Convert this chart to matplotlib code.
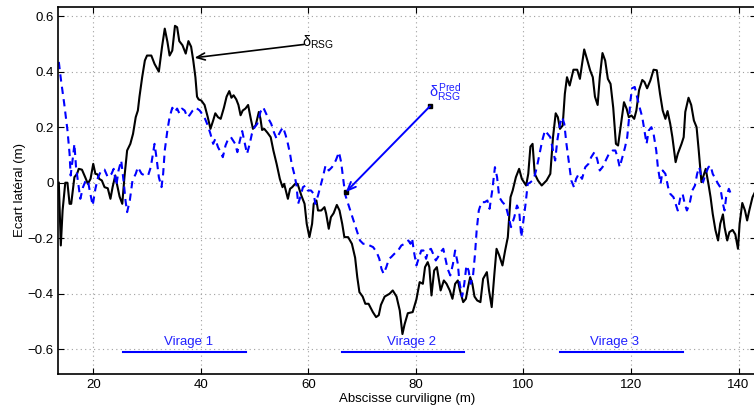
import matplotlib
matplotlib.use("Agg")
import matplotlib.pyplot as plt

plt.rcParams['font.family'] = ['Liberation Sans', 'DejaVu Sans']
plt.rcParams['mathtext.fontset'] = 'custom'
plt.rcParams['mathtext.rm'] = 'Liberation Sans'
plt.rcParams['mathtext.it'] = 'Liberation Sans'
plt.rcParams['mathtext.bf'] = 'Liberation Sans:bold'

# measured lateral deviation (black, solid)
rsg_x = [13.6, 13.97, 14.3, 14.8, 15.2, 15.6, 15.9, 16.5, 17.0, 17.3, 17.9, 18.5, 19.0, 19.5,
         20.0, 20.4, 20.8, 21.1, 21.6, 22.1, 22.7, 23.2, 23.6, 24.1, 24.4, 24.9, 25.4, 25.8,
         26.3, 26.9, 27.4, 27.9, 28.3, 28.6, 29.1, 29.6, 30.0, 30.8, 31.4, 32.2, 32.8, 33.3,
         33.8, 34.2, 34.7, 35.2, 35.6, 36.0, 36.6, 37.2, 37.7, 38.2, 38.6, 39.0, 39.3, 39.6,
         40.1, 40.7, 41.3, 41.8, 42.3, 42.7, 43.2, 43.7, 44.3, 44.8, 45.3, 45.7, 46.1, 46.6,
         47.0, 47.4, 47.8, 48.3, 48.8, 49.3, 49.7, 50.2, 50.8, 51.1, 51.4, 51.8, 52.4, 53.0,
         53.5, 54.1, 54.7, 55.2, 55.5, 56.2, 56.6, 57.0, 57.5, 58.0, 58.7, 59.3, 59.7, 60.2,
         60.7, 61.0, 61.5, 61.8, 62.4, 63.0, 63.3, 63.8, 64.2, 64.7, 65.3, 65.8, 66.3, 66.7,
         67.4, 68.1, 68.7, 69.1, 69.5, 70.1, 70.6, 71.2, 72.0, 72.6, 73.1, 73.5, 74.2, 75.1,
         75.7, 76.4, 77.0, 77.5, 77.9, 78.5, 79.4, 80.1, 80.7, 81.3, 81.7, 82.2, 82.5, 82.9,
         83.4, 83.9, 84.2, 84.6, 85.2, 85.7, 86.3, 86.8, 87.3, 87.8, 88.2, 88.8, 89.3, 89.7,
         90.1, 90.5, 90.9, 91.4, 92.0, 92.5, 93.2, 93.6, 94.1, 94.6, 95.0, 95.5, 96.1, 96.6,
         97.1, 97.6, 98.0, 98.6, 99.2, 99.7, 100.5, 100.9, 101.3, 101.7, 102.1, 102.7, 103.4,
         104.3, 105.0, 105.5, 106.0, 106.4, 106.8, 107.3, 107.7, 108.1, 108.6, 109.3, 110.0,
         110.5, 111.0, 111.3, 111.9, 112.4, 112.9, 113.3, 113.8, 114.2, 114.7, 115.2, 115.7,
         116.2, 116.7, 117.2, 117.6, 118.1, 118.7, 119.2, 119.6, 120.1, 120.6, 121.0, 121.5,
         122.1, 122.5, 123.0, 123.6, 124.2, 124.8, 125.4, 125.9, 126.4, 126.8, 127.3, 127.7,
         128.3, 128.7, 129.4, 129.8, 130.1, 130.7, 131.2, 131.7, 132.2, 132.6, 133.1, 133.4,
         133.9, 134.4, 134.8, 135.2, 135.7, 136.2, 136.6, 137.1, 137.4, 137.9, 138.3, 138.9,
         139.4, 139.9, 140.2, 140.7, 141.2, 141.6, 142.0, 142.6, 143.2]
rsg_y = [0.0, -0.226, -0.10, 0.0, 0.0, -0.076, -0.076, 0.02, 0.032, 0.05, 0.047, 0.02, -0.004, 0.014,
         0.068, 0.032, 0.03, 0.014, 0.008, -0.016, -0.02, -0.058, -0.016, 0.026, -0.004, -0.05, -0.076, 0.02,
         0.116, 0.14, 0.176, 0.236, 0.26, 0.31, 0.38, 0.44, 0.458, 0.458, 0.428, 0.40, 0.49, 0.555,
         0.507, 0.458, 0.476, 0.565, 0.56, 0.51, 0.495, 0.465, 0.51, 0.49, 0.44, 0.38, 0.31, 0.30,
         0.296, 0.28, 0.236, 0.194, 0.224, 0.25, 0.236, 0.23, 0.27, 0.31, 0.33, 0.306, 0.315, 0.30,
         0.28, 0.243, 0.26, 0.267, 0.28, 0.23, 0.194, 0.206, 0.255, 0.23, 0.19, 0.194, 0.18, 0.164,
         0.116, 0.068, 0.014, -0.016, -0.004, -0.058, -0.022, -0.016, -0.005, -0.004, -0.046, -0.076, -0.148, -0.196,
         -0.148, -0.076, -0.064, -0.10, -0.10, -0.088, -0.11, -0.166, -0.124, -0.11, -0.08, -0.10, -0.148, -0.196,
         -0.196, -0.22, -0.27, -0.34, -0.394, -0.41, -0.436, -0.436, -0.466, -0.484, -0.477, -0.44, -0.41, -0.40,
         -0.388, -0.41, -0.46, -0.545, -0.51, -0.47, -0.466, -0.42, -0.358, -0.364, -0.304, -0.286, -0.304, -0.406,
         -0.316, -0.304, -0.34, -0.388, -0.352, -0.364, -0.388, -0.418, -0.364, -0.352, -0.388, -0.43, -0.418, -0.376,
         -0.34, -0.364, -0.41, -0.424, -0.43, -0.346, -0.322, -0.388, -0.448, -0.328, -0.238, -0.262, -0.298, -0.244,
         -0.196, -0.052, -0.028, 0.02, 0.05, 0.014, -0.01, 0.032, 0.13, 0.14, 0.032, 0.008, -0.01,
         0.008, 0.032, 0.164, 0.25, 0.236, 0.194, 0.206, 0.32, 0.38, 0.35, 0.407, 0.407,
         0.374, 0.44, 0.48, 0.44, 0.405, 0.38, 0.31, 0.28, 0.38, 0.467, 0.44, 0.374,
         0.356, 0.27, 0.14, 0.134, 0.206, 0.29, 0.266, 0.236, 0.242, 0.23, 0.26, 0.333,
         0.37, 0.363, 0.34, 0.368, 0.407, 0.405, 0.32, 0.26, 0.23, 0.258, 0.212, 0.164,
         0.074, 0.104, 0.14, 0.164, 0.255, 0.306, 0.28, 0.224, 0.2, 0.116, 0.002, 0.02,
         0.05, -0.004, -0.052, -0.112, -0.17, -0.208, -0.148, -0.114, -0.16, -0.208, -0.178, -0.17,
         -0.186, -0.238, -0.148, -0.073, -0.10, -0.136, -0.10, -0.052, -0.028]

# predicted lateral deviation (blue, dashed)
pred_x = [13.6, 14.0, 14.6, 15.2, 15.6, 15.8, 16.3, 16.5, 16.8, 17.3, 17.6, 18.1, 18.6, 19.0,
          19.4, 19.9, 20.4, 20.9, 21.5, 22.1, 22.7, 23.4, 23.8, 24.3, 24.7, 25.2, 25.7, 26.0,
          26.3, 26.8, 27.3, 27.9, 28.3, 29.0, 29.6, 30.2, 30.7, 31.1, 31.4, 31.75, 32.2, 32.7,
          33.0, 33.3, 33.8, 34.2, 34.7, 35.2, 35.6, 36.0, 36.5, 37.0, 37.5, 37.9, 38.5, 39.1,
          39.8, 40.4, 40.8, 41.3, 41.8, 42.3, 42.7, 43.2, 43.7, 44.1, 44.6, 45.1, 45.6, 46.0,
          46.4, 46.8, 47.2, 47.7, 48.2, 48.6, 49.1, 49.5, 50.0, 50.5, 51.1, 51.6, 52.0, 52.6,
          53.1, 53.6, 54.1, 54.4, 54.9, 55.3, 55.8, 56.2, 56.6, 56.9, 57.4, 57.8, 58.1, 58.5,
          59.0, 59.5, 59.9, 60.5, 61.0, 61.3, 61.8, 62.2, 62.7, 63.2, 63.8, 64.4, 65.1, 65.7,
          66.1, 66.6, 66.9, 67.6, 68.2, 68.6, 69.1, 69.6, 70.2, 70.8, 71.4, 72.05, 72.7, 73.2,
          73.6, 74.0, 74.5, 75.0, 75.4, 76.0, 76.7, 77.3, 77.9, 78.6, 79.0, 79.3, 79.6, 80.1,
          80.5, 81.0, 81.4, 81.9, 82.3, 82.8, 83.2, 83.7, 84.1, 84.6, 85.1, 85.5, 85.9, 86.4,
          86.9, 87.3, 87.8, 88.1, 88.6, 89.0, 89.4, 89.8, 90.2, 90.6, 91.0, 91.3, 91.7, 92.2,
          92.8, 93.3, 93.7, 94.2, 94.7, 95.1, 95.5, 96.1, 96.7, 97.1, 97.7, 98.3, 98.8, 99.2,
          99.6, 100.0, 100.4, 100.8, 101.2, 101.7, 102.1, 102.5, 103.0, 103.5, 104.0, 104.5, 105.0,
          105.5, 105.9, 106.3, 106.8, 107.2, 107.6, 108.0, 108.4, 108.9, 109.4, 109.8, 110.3,
          110.9, 111.5, 112.1, 112.6, 113.2, 113.7, 114.2, 114.7, 115.3, 115.9, 116.6, 117.1,
          117.5, 117.9, 118.4, 118.9, 119.3, 119.6, 119.9, 120.2, 120.7, 121.2, 121.6, 122.1,
          122.6, 122.9, 123.3, 123.8, 124.2, 124.7, 125.0, 125.5, 125.9, 126.4, 126.9, 127.3,
          127.9, 128.3, 128.7, 129.2, 129.6, 130.0, 130.4, 130.9, 131.4, 131.9, 132.3, 132.7,
          133.1, 133.4, 133.9, 134.4, 134.8, 135.2, 135.7, 136.2, 136.6, 137.1, 137.4, 137.7,
          138.2, 138.7]
pred_y = [0.435, 0.37, 0.285, 0.19, 0.104, 0.026, 0.104, 0.14, 0.056, -0.016, -0.058, -0.016, 0.008, 0.008,
          -0.034, -0.082, -0.022, 0.02, 0.044, 0.047, 0.02, 0.032, 0.05, -0.01, 0.044, 0.08, -0.004, -0.064,
          -0.106, -0.064, 0.008, 0.032, 0.056, 0.032, 0.026, 0.026, 0.056, 0.104, 0.14, 0.092, 0.02, -0.016,
          0.032, 0.116, 0.19, 0.236, 0.27, 0.255, 0.267, 0.25, 0.267, 0.26, 0.236, 0.243, 0.26, 0.27,
          0.26, 0.243, 0.23, 0.206, 0.176, 0.14, 0.158, 0.128, 0.11, 0.092, 0.134, 0.158, 0.164, 0.152,
          0.14, 0.11, 0.146, 0.186, 0.14, 0.104, 0.14, 0.176, 0.2, 0.212, 0.255, 0.272, 0.255, 0.23,
          0.212, 0.182, 0.158, 0.17, 0.188, 0.2, 0.17, 0.14, 0.104, 0.068, 0.03, -0.01, -0.076, -0.052,
          -0.016, -0.01, -0.028, -0.028, -0.04, -0.076, -0.046, -0.016, 0.02, 0.062, 0.044, 0.056, 0.08, 0.11,
          0.074, -0.004, -0.046, -0.088, -0.124, -0.148, -0.178, -0.208, -0.22, -0.22, -0.226, -0.232, -0.25, -0.274,
          -0.31, -0.328, -0.304, -0.274, -0.268, -0.256, -0.244, -0.226, -0.22, -0.208, -0.22, -0.2, -0.244, -0.298,
          -0.274, -0.244, -0.244, -0.274, -0.244, -0.238, -0.256, -0.28, -0.268, -0.25, -0.238, -0.274, -0.31, -0.334,
          -0.292, -0.244, -0.292, -0.358, -0.41, -0.364, -0.298, -0.316, -0.364, -0.34, -0.256, -0.172, -0.1, -0.07,
          -0.07, -0.064, -0.094, -0.028, 0.056, 0.02, -0.052, -0.07, -0.082, -0.112, -0.16, -0.124, -0.082, -0.1,
          -0.196, -0.136, -0.076, -0.004, 0.0, 0.008, 0.026, 0.056, 0.104, 0.152, 0.188, 0.176, 0.164,
          0.116, 0.08, 0.152, 0.212, 0.236, 0.212, 0.14, 0.08, 0.008, -0.016, 0.014, 0.032,
          0.014, 0.056, 0.068, 0.092, 0.11, 0.086, 0.044, 0.056, 0.08, 0.104, 0.116, 0.116,
          0.092, 0.056, 0.092, 0.128, 0.164, 0.224, 0.296, 0.34, 0.345, 0.303, 0.272, 0.236,
          0.176, 0.14, 0.188, 0.2, 0.176, 0.116, 0.056, -0.004, 0.044, 0.032, -0.016, -0.04,
          -0.052, -0.076, -0.1, -0.052, -0.04, -0.076, -0.1, -0.076, -0.028, -0.01, 0.032, 0.056,
          0.02, 0.002, 0.032, 0.056, 0.062, 0.032, 0.014, -0.004, -0.016, -0.076, -0.1, -0.052,
          -0.022, -0.046]

# curve (virage) extents
virage_labels = ["Virage 1", "Virage 2", "Virage 3"]
virage_start = [25.6, 66.2, 106.8]
virage_end = [48.4, 88.9, 129.6]
virage_text_x = [37.7, 79.1, 117.0]
virage_level = -0.608

fig = plt.figure(figsize=(7.54, 4.12), dpi=100)
ax = fig.add_axes([0.0773, 0.0915, 0.925, 0.8923])

ax.plot(rsg_x, rsg_y, color='k', lw=1.5)
ax.plot(pred_x, pred_y, color='b', lw=1.5, linestyle=(0, (3.5, 2.5)))

for lab, x0, x1, xt in zip(virage_labels, virage_start, virage_end, virage_text_x):
    ax.plot([x0, x1], [virage_level, virage_level], color='b', lw=1.5)
    ax.text(xt, virage_level + 0.012, lab, color='#2020ff', fontsize=9.5,
            ha='center', va='bottom')

# annotations
ax.annotate('', xy=(38.84, 0.45), xytext=(59.2, 0.498),
            arrowprops=dict(arrowstyle='->,head_length=0.6,head_width=0.25',
                            color='k', lw=1.2, shrinkA=0, shrinkB=0))
ax.text(58.9, 0.49, r'$\delta_{RSG}$', fontsize=10.5, color='k',
        ha='left', va='baseline')

ax.annotate('', xy=(66.96, -0.034), xytext=(82.6, 0.275),
            arrowprops=dict(arrowstyle='->,head_length=0.6,head_width=0.25',
                            color='b', lw=1.4, shrinkA=0, shrinkB=0))
ax.plot([66.96, 82.6], [-0.034, 0.275], 's', color='k', ms=2.5)
ax.text(82.45, 0.31, r'$\delta^{Pred}_{RSG}$', fontsize=10.5, color='#2020ff',
        ha='left', va='baseline')

ax.set_xlim(13.5, 143.2)
ax.set_ylim(-0.69, 0.634)
ax.set_xticks([20, 40, 60, 80, 100, 120, 140])
ax.set_yticks([-0.6, -0.4, -0.2, 0, 0.2, 0.4, 0.6])
ax.set_yticklabels(['\u22120.6', '\u22120.4', '\u22120.2', '0', '0.2', '0.4', '0.6'])
ax.grid(True, linestyle=(0, (1, 3)), color='#a0a0a0', lw=0.8)
ax.tick_params(direction='in', top=True, right=True, length=4, labelsize=9.5)
for s in ax.spines.values():
    s.set_linewidth(1.2)

ax.set_xlabel('Abscisse curviligne (m)', fontsize=9.5, labelpad=1)
ax.set_ylabel('Ecart latéral (m)', fontsize=9.5, labelpad=1)

fig.savefig('out.png', dpi=100)
